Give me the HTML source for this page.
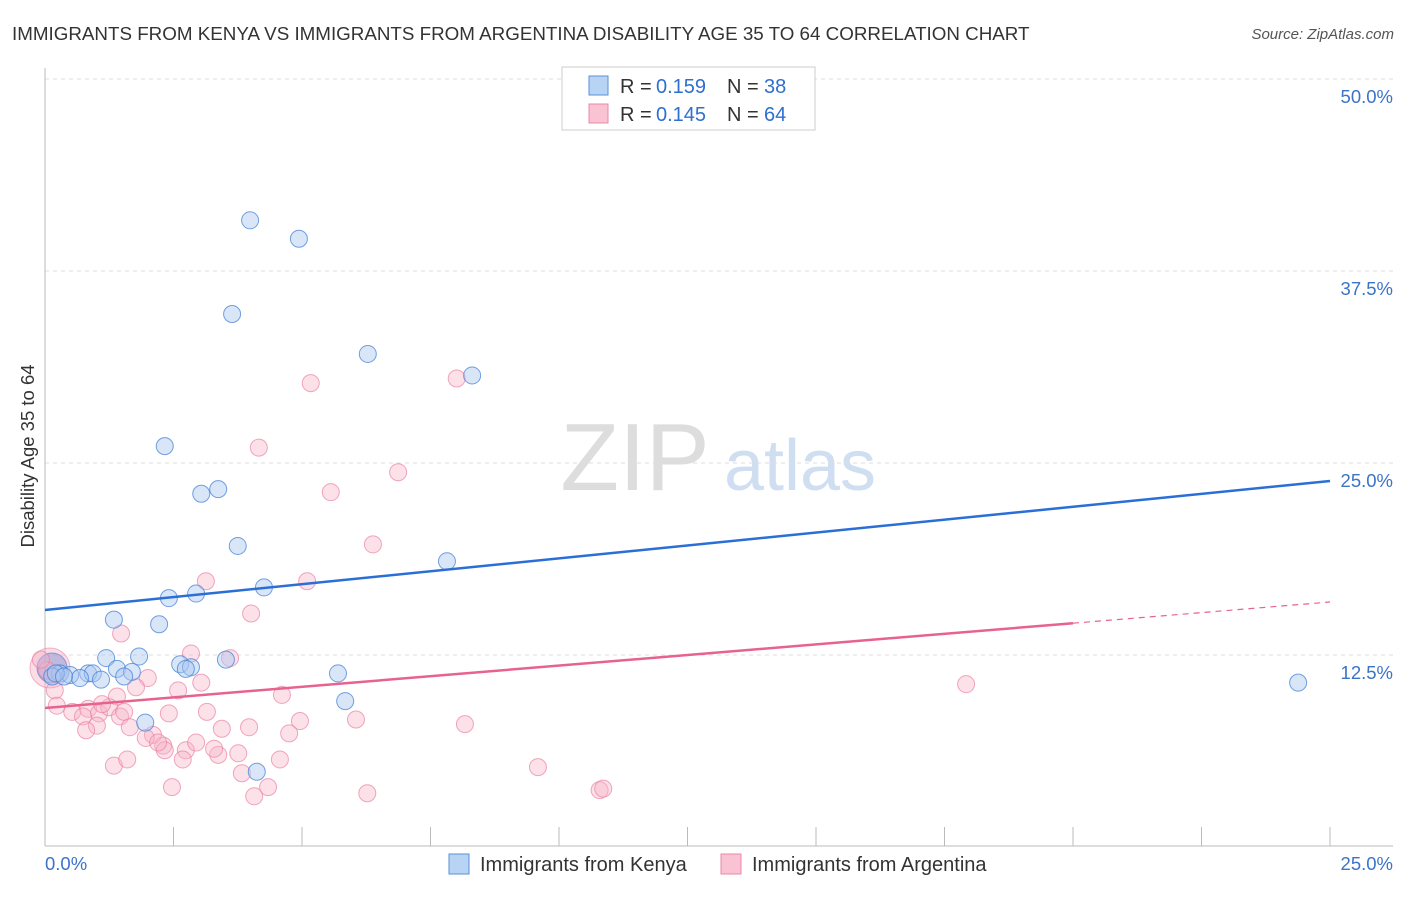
<!DOCTYPE html>
<html><head><meta charset="utf-8"><style>
body{margin:0;background:#fff;font-family:"Liberation Sans",sans-serif;}
svg text{font-family:"Liberation Sans",sans-serif;}
</style></head><body>
<svg id="chart" width="1406" height="892" xmlns="http://www.w3.org/2000/svg">
<text x="12" y="40" font-size="18.8" fill="#333">IMMIGRANTS FROM KENYA VS IMMIGRANTS FROM ARGENTINA DISABILITY AGE 35 TO 64 CORRELATION CHART</text>
<text x="1394" y="39" font-size="15" fill="#555" text-anchor="end" font-style="italic">Source: ZipAtlas.com</text>
<text transform="translate(34,456) rotate(-90)" font-size="18.5" fill="#333" text-anchor="middle">Disability Age 35 to 64</text>
<g>
<text x="635" y="490" font-size="96" fill="#ddd" text-anchor="middle" font-family="Liberation Serif">ZIP</text>
<text x="800" y="490" font-size="72" fill="#d0def2" text-anchor="middle">atlas</text>
</g>
<g id="grid"></g>
<g id="marks"></g>
<g>
<rect x="562" y="67" width="253" height="63" fill="#fff" stroke="#ccc"/>
<rect x="589" y="76" width="19" height="19" fill="#b8d4f5" stroke="#5b8fd6"/>
<rect x="589" y="104" width="19" height="19" fill="#f9c3d4" stroke="#e98aa8"/>
<text x="620" y="93" font-size="20" fill="#333">R =</text>
<text x="656" y="93" font-size="20" fill="#2f6fd0">0.159</text>
<text x="727" y="93" font-size="20" fill="#333">N =</text>
<text x="764" y="93" font-size="20" fill="#2f6fd0">38</text>
<text x="620" y="121" font-size="20" fill="#333">R =</text>
<text x="656" y="121" font-size="20" fill="#2f6fd0">0.145</text>
<text x="727" y="121" font-size="20" fill="#333">N =</text>
<text x="764" y="121" font-size="20" fill="#2f6fd0">64</text>
</g>
<g>
<rect x="449" y="854" width="20" height="20" fill="#b8d4f5" stroke="#5b8fd6"/>
<text x="480" y="871" font-size="20" fill="#333">Immigrants from Kenya</text>
<rect x="721" y="854" width="20" height="20" fill="#f9c3d4" stroke="#e98aa8"/>
<text x="752" y="871" font-size="20" fill="#333">Immigrants from Argentina</text>
</g>
</svg>
<script>
const xTicks=[0,25];
const yTicks=[12.5,25,37.5,50];
const kenyaX=[3.99,4.94,3.64,6.28,8.31,2.33,3.37,3.04,3.75,7.82,4.26,2.41,2.94,1.34,2.22,1.83,1.19,3.52,2.63,2.84,1.4,1.69,0.84,0.29,0.49,0.93,0.14,0.68,1.09,1.54,2.74,5.7,5.84,1.95,4.12,24.38,0.21,0.37];
const kenyaY=[40.8,39.6,34.7,32.1,30.7,26.1,23.3,23.0,19.6,18.6,16.9,16.2,16.5,14.8,14.5,12.4,12.3,12.2,11.9,11.7,11.6,11.4,11.3,11.3,11.2,11.3,11.1,11.0,10.9,11.1,11.6,11.3,9.5,8.1,4.9,10.7,11.3,11.1];
const argX=[5.17,8.01,4.16,6.87,5.56,6.38,3.13,5.1,4.01,1.48,2.84,3.6,2.0,1.77,2.59,3.04,1.4,4.61,17.92,0.19,0.23,0.53,0.84,1.05,1.25,1.11,1.46,1.54,0.74,1.01,0.8,2.41,3.15,1.65,2.1,1.96,2.3,2.74,2.94,3.44,3.97,4.96,6.05,8.17,4.75,3.76,3.37,2.68,1.34,1.6,4.57,3.83,4.34,2.47,4.07,6.27,9.59,10.79,10.86,0.04,-0.08,2.33,2.2,3.29];
const argY=[30.2,30.5,26.0,24.4,23.1,19.7,17.3,17.3,15.2,13.9,12.6,12.3,11.0,10.4,10.2,10.7,9.8,9.9,10.6,10.2,9.2,8.8,9.0,8.7,9.1,9.3,8.5,8.8,8.5,7.9,7.6,8.7,8.8,7.8,7.3,7.1,6.6,6.3,6.8,7.7,7.8,8.2,8.3,8.0,7.4,6.1,6.0,5.7,5.3,5.7,5.7,4.8,3.9,3.9,3.3,3.5,5.2,3.7,3.8,11.5,12.2,6.3,6.8,6.4];
const kenyaLine=[15.43,23.83];
const argLine=[9.05,15.95];
const X=v=>45+v/25*1285, Y=v=>847-v/12.5*192;
const NS='http://www.w3.org/2000/svg';
function mk(t,a,p){const e=document.createElementNS(NS,t);for(const k in a)e.setAttribute(k,a[k]);p.appendChild(e);return e;}
const grid=document.getElementById('grid'), marks=document.getElementById('marks');
yTicks.forEach(v=>{
 const l=mk('line',{x1:45,x2:1393,y1:Y(v),y2:Y(v),stroke:'#ddd','stroke-dasharray':'4,4'},grid);
 
 
 const t=mk('text',{x:1393,y:Y(v)+24,'font-size':18.5,fill:'#3b73c9','text-anchor':'end'},grid);
 t.textContent=v.toFixed(1)+'%';
 
 
});
mk('line',{x1:45,x2:45,y1:68,y2:846,stroke:'#bbb'},grid);
mk('line',{x1:45,x2:1393,y1:846,y2:846,stroke:'#bbb'},grid);
for(let i=1;i<=10;i++){const tk=mk('line',{x1:X(i*2.5),x2:X(i*2.5),y1:827,y2:846,stroke:'#bbb'},grid);
 
 }
xTicks.forEach((v,i)=>{const t=mk('text',{x:i?1393:45,y:870,'font-size':18.5,fill:'#3b73c9','text-anchor':i?'end':'start'},grid);
 t.textContent=v.toFixed(1)+'%';
 
 });
mk('circle',{cx:50,cy:668,r:20,fill:'rgba(248,180,200,0.45)',stroke:'rgba(233,130,165,0.6)'},marks);
mk('circle',{cx:52,cy:668,r:15,fill:'rgba(120,140,210,0.45)',stroke:'rgba(70,120,210,0.6)'},marks);
argX.forEach((v,i)=>{const c=mk('circle',{cx:X(v),cy:Y(argY[i]),r:8.5,fill:'rgba(248,180,200,0.4)',stroke:'rgba(233,130,165,0.7)'},marks);
 
 });
kenyaX.forEach((v,i)=>{const c=mk('circle',{cx:X(v),cy:Y(kenyaY[i]),r:8.5,fill:'rgba(170,200,240,0.45)',stroke:'rgba(70,130,215,0.75)'},marks);
 
 });
const kl=mk('line',{x1:X(0),y1:Y(kenyaLine[0]),x2:X(25),y2:Y(kenyaLine[1]),stroke:'#2a6fd6','stroke-width':2.5},marks);


const xe=20, ye=argLine[0]+(argLine[1]-argLine[0])*xe/25;
const al=mk('line',{x1:X(0),y1:Y(argLine[0]),x2:X(xe),y2:Y(ye),stroke:'#e8628f','stroke-width':2.5},marks);


const ad=mk('line',{x1:X(xe),y1:Y(ye),x2:X(25),y2:Y(argLine[1]),stroke:'#e8628f','stroke-width':1.2,'stroke-dasharray':'6,5'},marks);


</script>
</body></html>
